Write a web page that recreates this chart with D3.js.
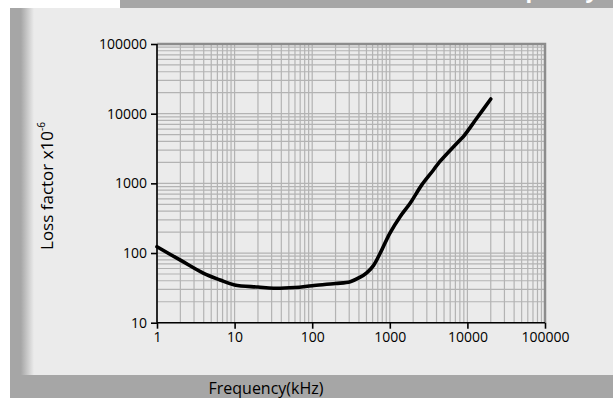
<!DOCTYPE html>
<html>
<head>
<meta charset="utf-8">
<script src="https://cdn.jsdelivr.net/npm/d3@7"></script>
<style>
  html, body { margin: 0; padding: 0; background: #fff; }
  svg { display: block; font-family: 'Open Sans', sans-serif; }
</style>
</head>
<body>
<script>
// frequency (kHz) and loss factor (x10^-6)
const freqs = [1, 2, 4, 6.5, 10, 20, 31.7, 60, 100, 200, 309, 415, 503, 615, 789, 1000, 1358, 1827, 2584, 3650, 4230, 8040, 8870, 13200, 20000];
const losses = [123, 79, 51, 41, 34.8, 32.5, 31.2, 32, 34, 36.5, 38.8, 45, 52, 66, 111, 192, 332, 517, 950, 1556, 1940, 4190, 4680, 8590, 16250];
const xTicks = [1, 10, 100, 1000, 10000, 100000];
const yTicks = [10, 100, 1000, 10000, 100000];

const w = 613;
const h = 398;
const plotL = 157, plotR = 545, plotT = 44, plotB = 322.7;

const svg = d3.select('body').append('svg').attr('width', w).attr('height', h);

// panel background + frame strips
svg.append('rect').attr('x', 10).attr('y', 8).attr('width', w - 10).attr('height', 367).attr('fill', '#ebebeb');
const grad = svg.append('defs').append('linearGradient').attr('id', 'edge');
grad.append('stop').attr('offset', '0%').attr('stop-color', '#a6a6a6');
grad.append('stop').attr('offset', '45%').attr('stop-color', '#a6a6a6');
grad.append('stop').attr('offset', '100%').attr('stop-color', '#ebebeb');
svg.append('rect').attr('x', 10).attr('y', 8).attr('width', 24).attr('height', 367).attr('fill', 'url(#edge)');
svg.append('rect').attr('x', 10).attr('y', 375).attr('width', w - 10).attr('height', 23).attr('fill', '#a6a6a6');
svg.append('rect').attr('x', 120).attr('y', 0).attr('width', w - 120).attr('height', 8).attr('fill', '#a6a6a6');
// title text of the banner, only its descenders show
svg.append('text').attr('x', 598).attr('y', -2).attr('text-anchor', 'end')
  .attr('font-size', 22).attr('font-weight', 'bold').attr('fill', '#fff').text('Frequency');

const x = d3.scaleLog().domain([1, 100000]).range([plotL, plotR]);
const y = d3.scaleLog().domain([10, 100000]).range([plotB, plotT]);

// minor + major grid
const gridX = [], gridY = [];
for (let d = 1; d < 100000; d *= 10) for (let k = 1; k <= 9; k++) gridX.push(d * k);
for (let d = 10; d < 100000; d *= 10) for (let k = 1; k <= 9; k++) gridY.push(d * k);

svg.append('g').selectAll('line').data(gridX).enter().append('line')
  .attr('x1', (d) => x(d)).attr('x2', (d) => x(d)).attr('y1', plotT).attr('y2', plotB)
  .attr('stroke', '#b3b3b3').attr('stroke-width', 1.2);
svg.append('g').selectAll('line').data(gridY).enter().append('line')
  .attr('y1', (d) => y(d)).attr('y2', (d) => y(d)).attr('x1', plotL).attr('x2', plotR)
  .attr('stroke', '#b3b3b3').attr('stroke-width', 1.2);

// top and right border
svg.append('path').attr('d', `M${plotL},${plotT}H${plotR}V${plotB}`)
  .attr('fill', 'none').attr('stroke', '#8c8c8c').attr('stroke-width', 2.5);

const fmt = d3.format('d');
const xAxis = svg.append('g').attr('transform', `translate(0,${plotB})`)
  .call(d3.axisBottom(x).tickValues(xTicks).tickFormat(fmt).tickSize(6).tickPadding(3));
const yAxis = svg.append('g').attr('transform', `translate(${plotL},0)`)
  .call(d3.axisLeft(y).tickValues(yTicks).tickFormat(fmt).tickSize(6).tickPadding(4));
[xAxis, yAxis].forEach((a) => {
  a.select('.domain').attr('stroke', '#000').attr('stroke-width', 1.6);
  a.selectAll('.tick line').attr('stroke', '#000').attr('stroke-width', 1.6);
  a.selectAll('.tick text').attr('font-size', 14).attr('fill', '#000')
    .style('font-family', "'Open Sans', sans-serif");
});
xAxis.select('.domain').attr('d', `M${plotL},0H${plotR}`);
yAxis.select('.domain').attr('d', `M0,${plotB}V${plotT}`);

// curve
const line = d3.line().x((d) => x(d[0])).y((d) => y(d[1])).curve(d3.curveCatmullRom.alpha(0.5));
svg.append('path').datum(freqs.map((f, i) => [f, losses[i]]))
  .attr('d', line).attr('fill', 'none').attr('stroke', '#000')
  .attr('stroke-width', 3.6).attr('stroke-linecap', 'round').attr('stroke-linejoin', 'round');

// axis titles
const yl = svg.append('text').attr('transform', 'translate(53,186) rotate(-90)')
  .attr('text-anchor', 'middle').attr('font-size', 17).attr('fill', '#000');
yl.append('tspan').text('Loss factor x10');
yl.append('tspan').attr('font-size', 10).attr('dy', -8).text('-6');

svg.append('text').attr('x', 266).attr('y', 394).attr('text-anchor', 'middle')
  .attr('font-size', 16).attr('fill', '#000').text('Frequency(kHz)');
</script>
</body>
</html>
